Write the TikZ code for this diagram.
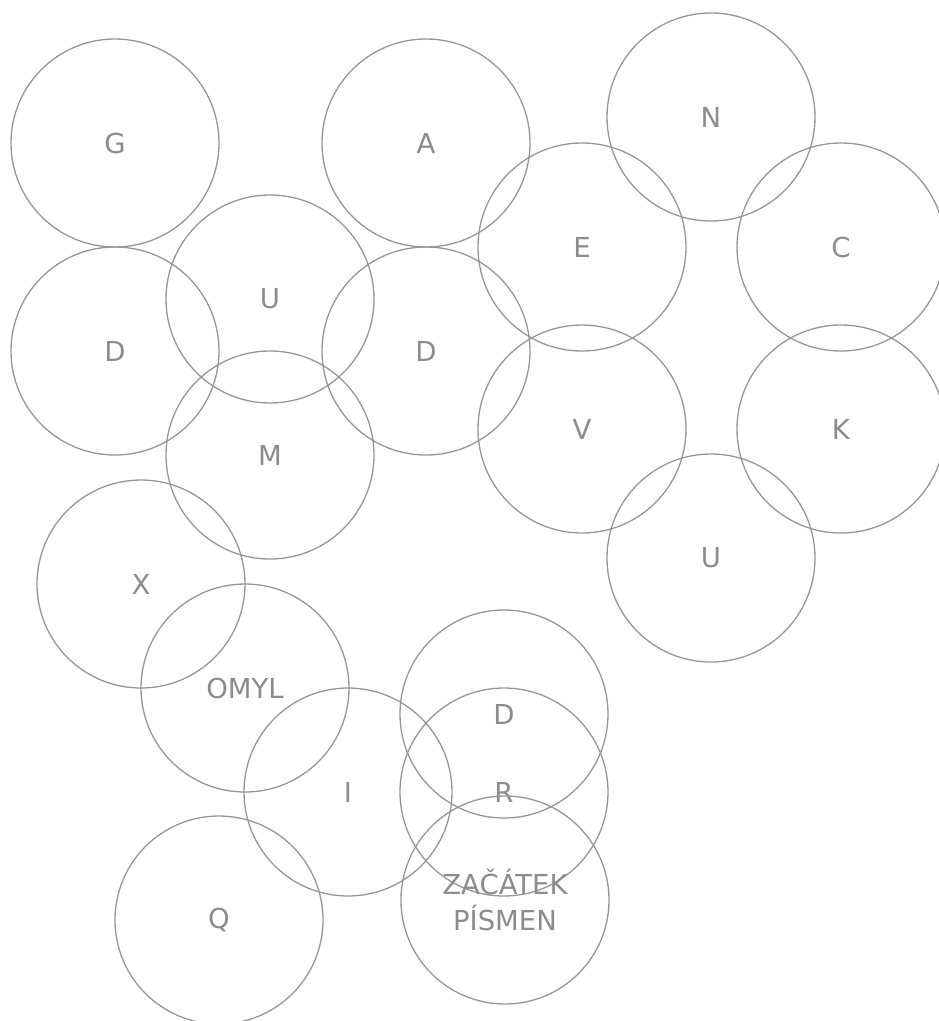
\documentclass[tikz,border=0pt]{standalone}
\usepackage{fontspec}
\setmainfont{DejaVu Sans}
\definecolor{cg}{RGB}{150,150,150}
\definecolor{tg}{RGB}{140,140,140}
\begin{document}
\begin{tikzpicture}[x=1pt,y=-1pt,
  bub/.style={circle,draw=cg,line width=1.3pt,minimum size=208pt,inner sep=0pt,
    text=tg,font=\fontsize{27.5}{36}\selectfont,align=center}]
\useasboundingbox (0,0) rectangle (939,1021);
\node[bub] (g) at (115,143) {G};
\node[bub] (a) at (426,143) {A};
\node[bub] (n) at (711,117) {N};
\node[bub] (e) at (582,247) {E};
\node[bub] (c) at (841,247) {C};
\node[bub] (u1) at (270,299) {U};
\node[bub] (d1) at (115,351) {D};
\node[bub] (d2) at (426,351) {D};
\node[bub] (v) at (582,429) {V};
\node[bub] (k) at (841,429) {K};
\node[bub] (m) at (270,455) {M};
\node[bub] (u2) at (711,558) {U};
\node[bub] (x) at (141,584) {X};
\node[bub] (o) at (245,688) {OMYL};
\node[bub] (d3) at (504,714) {D};
\node[bub] (i) at (348,792) {I};
\node[bub] (r) at (504,792) {R};
\node[bub] (z) at (505,900) {ZAČÁTEK\\PÍSMEN};
\node[bub] (q) at (219,920) {Q};
\end{tikzpicture}
\end{document}
